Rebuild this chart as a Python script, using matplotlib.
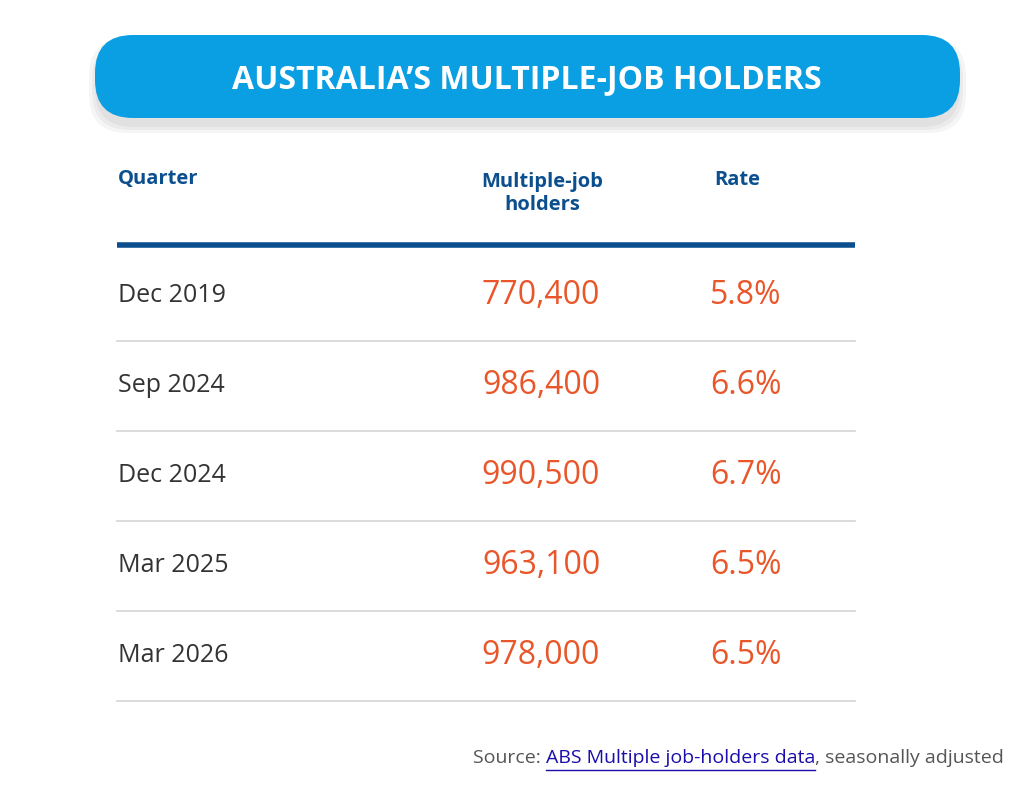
import matplotlib
matplotlib.use("Agg")
import matplotlib.pyplot as plt
from matplotlib.patches import FancyBboxPatch

title = "AUSTRALIA’S MULTIPLE-JOB HOLDERS"
headers = ["Quarter", "Multiple-job\nholders", "Rate"]
quarters = ["Dec 2019", "Sep 2024", "Dec 2024", "Mar 2025", "Mar 2026"]
holders = [770400, 986400, 990500, 963100, 978000]
rates = [5.8, 6.6, 6.7, 6.5, 6.5]

BLUE = "#0b4f8f"
ORANGE = "#e8562a"
fam = ["Open Sans", "DejaVu Sans"]

fig = plt.figure(figsize=(10.24, 7.94), dpi=100)
ax = fig.add_axes([0, 0, 1, 1])
ax.set_xlim(0, 1024)
ax.set_ylim(794, 0)
ax.axis("off")

# title box with soft shadow
for i, a in enumerate([0.04, 0.04, 0.04]):
    ax.add_patch(FancyBboxPatch((95 - i*3, 38 - i*3 + 6), 865 + i*6, 83 + i*6,
                 boxstyle="round,pad=0,rounding_size=38", fc="black", ec="none", alpha=a))
ax.add_patch(FancyBboxPatch((95, 35), 865, 83, boxstyle="round,pad=0,rounding_size=38",
                            fc="#0a9fe2", ec="none"))
ax.text(527, 80, title, color="white", fontsize=23, fontweight="bold", family=fam,
        ha="center", va="center")

ax.text(118, 179, headers[0], color=BLUE, fontsize=14.5, fontweight="bold", family=fam, va="center")
ax.text(542, 194, headers[1], color=BLUE, fontsize=14.5, fontweight="bold", family=fam,
        va="center", ha="center", linespacing=1.2)
ax.text(714, 180, headers[2], color=BLUE, fontsize=14.5, fontweight="bold", family=fam, va="center")
ax.plot([117, 855], [245, 245], color=BLUE, lw=4, solid_capstyle="butt")

row0, step = 295, 90
for i, (q, h, r) in enumerate(zip(quarters, holders, rates)):
    y = row0 + i * step
    ax.text(118, y, q, color="#333333", fontsize=18, family=fam, va="center")
    ax.text(541, y, f"{h:,}", color=ORANGE, fontsize=23, family=fam, va="center", ha="center")
    ax.text(710, y, f"{r:.1f}%", color=ORANGE, fontsize=23, family=fam, va="center")
    ax.plot([117, 855], [y + 46, y + 46], color="#d4d4d4", lw=1.2)

t1 = ax.text(1004, 758, ", seasonally adjusted", color="#555555", fontsize=14, family=fam,
             ha="right", va="center")
fig.canvas.draw()
bb = t1.get_window_extent()
x_right = bb.x0
t2 = ax.text(x_right, 758, "ABS Multiple job-holders data", color="#1a0dab", fontsize=14,
             family=fam, ha="right", va="center")
fig.canvas.draw()
bb2 = t2.get_window_extent()
ax.plot([bb2.x0, bb2.x1], [770, 770], color="#1a0dab", lw=1)
ax.text(bb2.x0, 758, "Source: ", color="#555555", fontsize=14, family=fam, ha="right", va="center")

fig.savefig("out.png", dpi=100, facecolor="white")
